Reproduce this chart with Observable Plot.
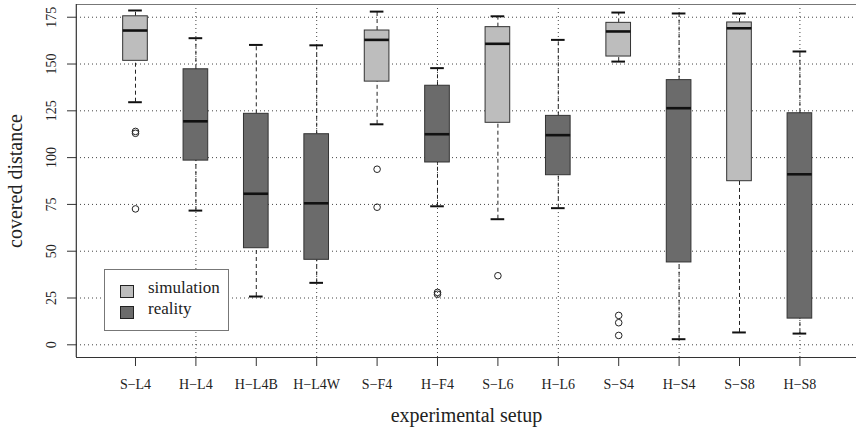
<!DOCTYPE html>
<html>
<head>
<meta charset="utf-8">
<script src="https://cdn.jsdelivr.net/npm/d3@7"></script>
<script src="https://cdn.jsdelivr.net/npm/@observablehq/plot@0.6"></script>
<style>
  html, body { margin: 0; padding: 0; background: #fff; }
  #wrap { position: relative; width: 856px; height: 431px; font-family: "Liberation Serif", "DejaVu Serif", serif; }
  #legend { position: absolute; left: 104px; top: 269px; width: 125px; height: 62px; border: 1px solid #777; background: #fff; box-sizing: border-box; }
  .item { position: absolute; left: 15px; font-size: 17px; color: #222; }
  .sw { position: absolute; width: 12px; height: 11px; border: 1px solid #222; }
  .lab { position: absolute; left: 28px; white-space: nowrap; }
</style>
</head>
<body>
<div id="wrap"></div>
<script>
// ---- data ----
const setups = ["S\u2212L4","H\u2212L4","H\u2212L4B","H\u2212L4W","S\u2212F4","H\u2212F4","S\u2212L6","H\u2212L6","S\u2212S4","H\u2212S4","S\u2212S8","H\u2212S8"];
const kinds  = ["simulation","reality","reality","reality","simulation","reality","simulation","reality","simulation","reality","simulation","reality"];
const lowWhisker  = [129.6, 71.7, 25.8, 33.1, 117.8, 74.0, 67.1, 73.0, 151.3,   3.0,   6.6,   6.0];
const q1          = [151.7, 98.4, 51.6, 45.4, 140.6, 97.4,118.6, 90.6, 154.0,  44.0,  87.4,  14.0];
const medians     = [167.9,119.4, 80.7, 75.6, 162.9,112.5,160.8,112.0, 167.4, 126.4, 169.1,  91.1];
const q3          = [175.5,147.2,123.4,112.5, 167.9,138.4,169.7,122.3, 172.0, 141.4, 172.2, 123.7];
const highWhisker = [178.6,163.8,160.2,160.0, 178.0,147.8,175.5,162.9, 177.5, 177.0, 177.0, 156.7];
const outlierSetup = ["S\u2212L4","S\u2212L4","S\u2212L4","S\u2212F4","S\u2212F4","H\u2212F4","H\u2212F4","S\u2212L6","S\u2212S4","S\u2212S4","S\u2212S4"];
const outlierValue = [113.0, 114.0, 72.6, 93.8, 73.5, 27.0, 28.0, 36.9, 15.7, 11.8, 5.0];
const yTicks = [0, 25, 50, 75, 100, 125, 150, 175];
const xGrid = [2, 4, 6, 8, 10, 12];
const seriesNames = ["simulation", "reality"];
const seriesColors = ["#bdbdbd", "#6b6b6b"];

// ---- derived table ----
const boxes = setups.map((s, k) => ({
  pos: k + 1, setup: s, kind: kinds[k],
  lo: lowWhisker[k], q1: q1[k], med: medians[k], q3: q3[k], hi: highWhisker[k]
}));
const outliers = outlierSetup.map((s, k) => ({ pos: setups.indexOf(s) + 1, value: outlierValue[k] }));

const xDomain = [0.02, 12.98];
const yDomain = [-6.78, 181.8];
const boxHalf = 0.204, capHalf = 0.113;
const colorOf = k => seriesColors[seriesNames.indexOf(k)];

const chart = Plot.plot({
  width: 856,
  height: 431,
  marginTop: 4,
  marginBottom: 74,
  marginLeft: 76,
  marginRight: 0,
  style: { fontFamily: "'Liberation Serif', 'DejaVu Serif', serif", color: "#222", background: "#fff" },
  x: { type: "linear", domain: xDomain, range: [75.8, 858.6], axis: null },
  y: { type: "linear", domain: yDomain, range: [357, 4], axis: null },
  marks: [
    // grid
    Plot.ruleY(yTicks, { stroke: "#444", strokeDasharray: "1,3", strokeWidth: 1 }),
    Plot.ruleX(xGrid, { stroke: "#444", strokeDasharray: "1,3", strokeWidth: 1 }),
    // whiskers
    Plot.ruleX(boxes, { x: "pos", y1: "q3", y2: "hi", stroke: "#222", strokeDasharray: "4,3" }),
    Plot.ruleX(boxes, { x: "pos", y1: "lo", y2: "q1", stroke: "#222", strokeDasharray: "4,3" }),
    Plot.ruleY(boxes, { y: "hi", x1: d => d.pos - capHalf, x2: d => d.pos + capHalf, stroke: "#111", strokeWidth: 2 }),
    Plot.ruleY(boxes, { y: "lo", x1: d => d.pos - capHalf, x2: d => d.pos + capHalf, stroke: "#111", strokeWidth: 2 }),
    // boxes
    Plot.rect(boxes, { x1: d => d.pos - boxHalf, x2: d => d.pos + boxHalf, y1: "q1", y2: "q3", fill: d => colorOf(d.kind), stroke: "#333", strokeWidth: 1 }),
    Plot.ruleY(boxes, { y: "med", x1: d => d.pos - boxHalf, x2: d => d.pos + boxHalf, stroke: "#111", strokeWidth: 2.6 }),
    // outliers
    Plot.dot(outliers, { x: "pos", y: "value", r: 3.3, stroke: "#222", fill: "none", strokeWidth: 1 }),
    // frame (left, top, bottom)
    Plot.ruleY([yDomain[0]], { stroke: "#333", strokeWidth: 1.2 }),
    Plot.ruleY([yDomain[1]], { stroke: "#777", strokeWidth: 1.2 }),
    Plot.ruleX([xDomain[0]], { stroke: "#333", strokeWidth: 1.2 }),
    // axes
    Plot.axisY(yTicks, { anchor: "left", tickSize: 9, tickRotate: -90, tickPadding: 12, fontSize: 14, label: null, stroke: "#333" }),
    Plot.axisX(setups.map((s, k) => k + 1), { anchor: "bottom", tickSize: 9, tickPadding: 13, fontSize: 14, label: null, tickFormat: i => setups[i - 1], stroke: "#333" }),
    // axis titles
    Plot.text(["experimental setup"], { frameAnchor: "bottom", dy: 58.3, fontSize: 20, lineAnchor: "middle", textAnchor: "middle", fill: "#222" }),
    Plot.text(["covered distance"], { frameAnchor: "left", dx: -60.7, rotate: -90, fontSize: 20, lineAnchor: "middle", textAnchor: "middle", fill: "#222" })
  ]
});

const wrap = document.getElementById("wrap");
wrap.appendChild(chart);

// legend
const legend = document.createElement("div");
legend.id = "legend";
const tops = [14, 35];
seriesNames.forEach((name, k) => {
  const item = document.createElement("div");
  item.className = "item";
  item.style.top = tops[k] + "px";
  const sw = document.createElement("div");
  sw.className = "sw";
  sw.style.background = seriesColors[k];
  sw.style.top = "1px";
  const lab = document.createElement("div");
  lab.className = "lab";
  lab.style.top = "-6px";
  lab.textContent = name;
  item.appendChild(sw);
  item.appendChild(lab);
  legend.appendChild(item);
});
wrap.appendChild(legend);
</script>
</body>
</html>
